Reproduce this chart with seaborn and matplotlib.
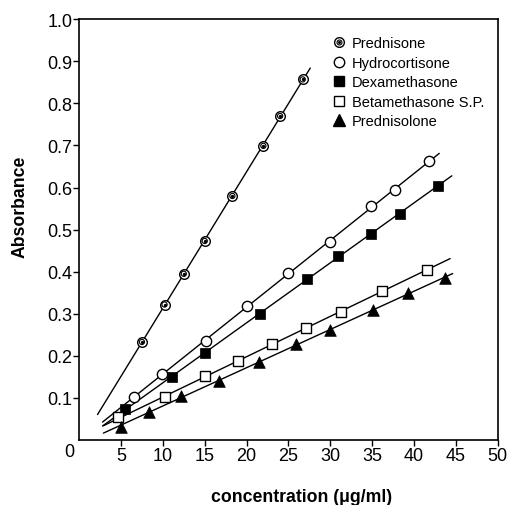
import numpy as np
import matplotlib
matplotlib.use("Agg")
import matplotlib.pyplot as plt
from matplotlib.lines import Line2D
import seaborn as sns

# values
prednisone_x = [7.5, 10.2, 12.5, 15.0, 18.3, 22.0, 24.0, 26.7]
prednisone_y = [0.233, 0.322, 0.395, 0.473, 0.580, 0.699, 0.770, 0.857]

hydro_x = [6.6, 9.9, 15.1, 20.0, 25.0, 29.9, 34.9, 37.7, 41.8]
hydro_y = [0.101, 0.158, 0.235, 0.318, 0.397, 0.471, 0.555, 0.595, 0.662]

dexa_x = [5.5, 11.1, 15.0, 21.6, 27.2, 30.9, 34.9, 38.3, 42.8]
dexa_y = [0.073, 0.150, 0.207, 0.300, 0.382, 0.438, 0.489, 0.538, 0.604]

beta_x = [4.7, 10.3, 15.0, 19.0, 23.0, 27.1, 31.3, 36.2, 41.5]
beta_y = [0.054, 0.101, 0.151, 0.187, 0.228, 0.267, 0.304, 0.354, 0.405]

predlone_x = [5.0, 8.4, 12.2, 16.7, 21.5, 25.9, 29.9, 35.1, 39.3, 43.7]
predlone_y = [0.032, 0.067, 0.105, 0.140, 0.186, 0.227, 0.261, 0.308, 0.349, 0.386]

# x-range covered by each fitted line
line_ranges = {
    "Prednisone": (2.2, 27.6),
    "Hydrocortisone": (2.8, 43.0),
    "Dexamethasone": (2.8, 44.5),
    "Betamethasone S.P.": (2.9, 44.3),
    "Prednisolone": (2.9, 44.6),
}

x_ticks = [5, 10, 15, 20, 25, 30, 35, 40, 45, 50]
y_ticks = [0.1, 0.2, 0.3, 0.4, 0.5, 0.6, 0.7, 0.8, 0.9, 1.0]

sns.set_style("ticks")
plt.rcParams["font.family"] = ["Liberation Sans", "DejaVu Sans"]
plt.rcParams["text.color"] = "black"
plt.rcParams["axes.labelcolor"] = "black"

fig = plt.figure(figsize=(5.07, 5.06), dpi=100)
ax = fig.add_axes([0.156, 0.1285, 0.826, 0.8315])

series = [
    ("Prednisone", prednisone_x, prednisone_y),
    ("Hydrocortisone", hydro_x, hydro_y),
    ("Dexamethasone", dexa_x, dexa_y),
    ("Betamethasone S.P.", beta_x, beta_y),
    ("Prednisolone", predlone_x, predlone_y),
]

# regression lines
for name, xs, ys in series:
    k, b = np.polyfit(xs, ys, 1)
    x0, x1 = line_ranges[name]
    xx = np.array([x0, x1])
    ax.plot(xx, k * xx + b, color="black", lw=1.0, zorder=1)

# Prednisone: ringed circle marker
sns.scatterplot(x=prednisone_x, y=prednisone_y, ax=ax, marker="o", s=48,
                facecolor="white", edgecolor="black", linewidth=1.0, zorder=3)
ax.scatter(prednisone_x, prednisone_y, marker="o", s=14, facecolor="none",
           edgecolor="black", linewidth=0.8, zorder=4)
ax.scatter(prednisone_x, prednisone_y, marker="o", s=2, color="black", zorder=5)

sns.scatterplot(x=hydro_x, y=hydro_y, ax=ax, marker="o", s=55,
                facecolor="white", edgecolor="black", linewidth=1.0, zorder=3)
sns.scatterplot(x=dexa_x, y=dexa_y, ax=ax, marker="s", s=55,
                color="black", edgecolor="black", linewidth=0.5, zorder=3)
sns.scatterplot(x=beta_x, y=beta_y, ax=ax, marker="s", s=52,
                facecolor="white", edgecolor="black", linewidth=1.0, zorder=3)
sns.scatterplot(x=predlone_x, y=predlone_y, ax=ax, marker="^", s=70,
                color="black", edgecolor="black", linewidth=0.5, zorder=3)

# legend handles
leg_pred = (Line2D([], [], ls="none", marker="o", ms=7, mfc="white", mec="black", mew=1.0),
            Line2D([], [], ls="none", marker="o", ms=3.6, mfc="none", mec="black", mew=0.8),
            Line2D([], [], ls="none", marker="o", ms=1.2, color="black"))
leg_items = [
    leg_pred,
    Line2D([], [], ls="none", marker="o", ms=7.5, mfc="white", mec="black", mew=1.0),
    Line2D([], [], ls="none", marker="s", ms=7.2, color="black"),
    Line2D([], [], ls="none", marker="s", ms=7.2, mfc="white", mec="black", mew=1.0),
    Line2D([], [], ls="none", marker="^", ms=8.5, color="black"),
]
ax.legend(leg_items, [s[0] for s in series], loc="upper left",
          bbox_to_anchor=(0.575, 0.984), frameon=False, fontsize=10.5,
          handlelength=1.2, handletextpad=0.3, labelspacing=0.38, borderpad=0.2)

ax.set_xlim(0, 50)
ax.set_ylim(0, 1.0)
ax.set_xticks(x_ticks)
ax.set_xticklabels([str(v) for v in x_ticks])
ax.set_yticks(y_ticks)
ax.set_yticklabels([f"{v:.1f}" for v in y_ticks])
ax.tick_params(axis="both", direction="out", length=4, width=1.0, labelsize=13,
               color="black", labelcolor="black", pad=1)
for sp in ax.spines.values():
    sp.set_visible(True)
    sp.set_linewidth(1.2)
    sp.set_color("black")
ax.text(-0.012, -0.028, "0", transform=ax.transAxes, ha="right", va="center", fontsize=13)

ax.set_xlabel("concentration (\u03bcg/ml)", fontsize=12.7, fontweight="bold")
ax.set_ylabel("Absorbance", fontsize=12.7, fontweight="bold")
ax.xaxis.set_label_coords(0.532, -0.115)
ax.yaxis.set_label_coords(-0.121, 0.557)

fig.savefig("out.png", dpi=100)
